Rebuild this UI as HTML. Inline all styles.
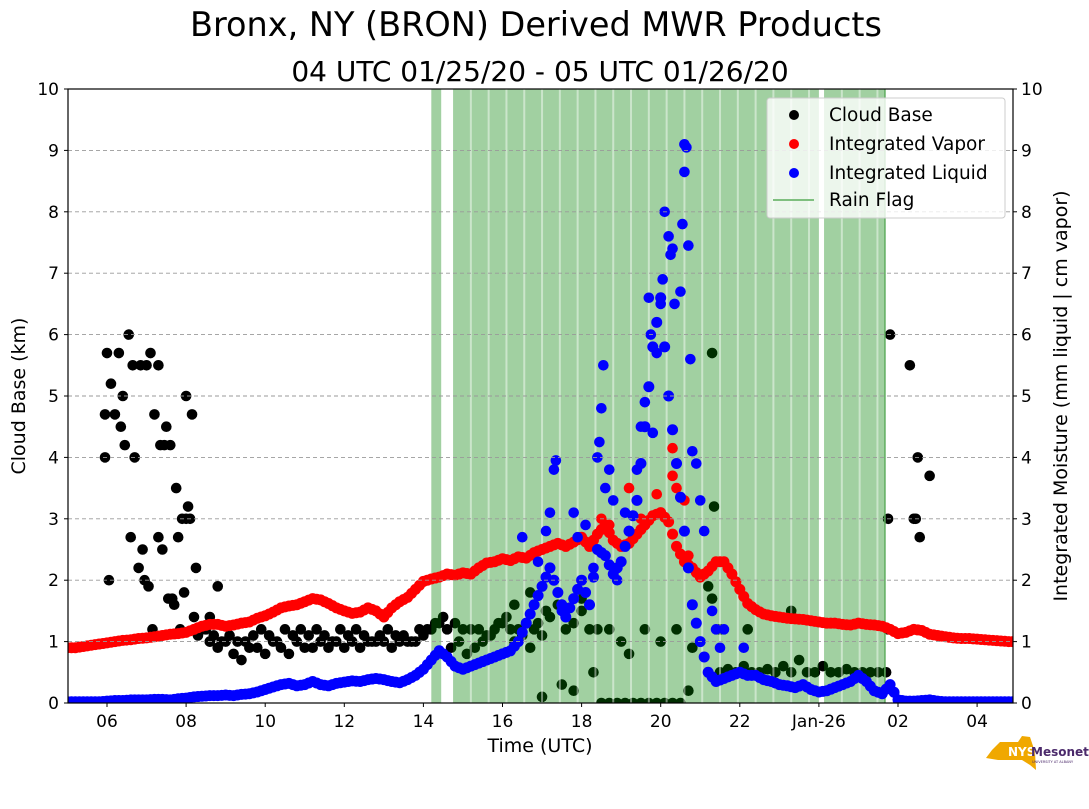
<!DOCTYPE html>
<html><head><meta charset="utf-8"><style>
body{margin:0;background:#fff;}
svg text{font-family:"DejaVu Sans","Liberation Sans",sans-serif;}
</style></head><body>
<svg id="chart" width="1089" height="804" xmlns="http://www.w3.org/2000/svg">
<text x="536" y="36" font-size="33.5" text-anchor="middle">Bronx, NY (BRON) Derived MWR Products</text>
<text x="540" y="81" font-size="28" text-anchor="middle">04 UTC 01/25/20 - 05 UTC 01/26/20</text>
<g id="plot"></g>
<text x="540" y="752" font-size="19" text-anchor="middle">Time (UTC)</text>
<text transform="translate(25,396) rotate(-90)" font-size="19" text-anchor="middle">Cloud Base (km)</text>
<text transform="translate(1067,396) rotate(-90)" font-size="19" text-anchor="middle">Integrated Moisture (mm liquid | cm vapor)</text>
<g>
<rect x="767" y="98" width="238" height="120" rx="3" fill="#fff" fill-opacity="0.8" stroke="#ccc"/>
<circle cx="794" cy="115" r="5" fill="#000"/><text x="829" y="121" font-size="18.5">Cloud Base</text>
<circle cx="794" cy="144" r="5" fill="#f00"/><text x="829" y="150" font-size="18.5">Integrated Vapor</text>
<circle cx="794" cy="173" r="5" fill="#00f"/><text x="829" y="179" font-size="18.5">Integrated Liquid</text>
<line x1="773" y1="200" x2="814" y2="200" stroke="#7fbf7f" stroke-width="2"/><text x="829" y="206" font-size="18.5">Rain Flag</text>
</g>
<g>
<path d="M1000,742 L1018,742 L1022,736 L1030,737 L1035,752 L1036,770 L1030,765 L1022,760 L998,760 L986,758 L992,750 Z" fill="#f0a800"/>
<text x="1008" y="756" font-size="12" font-weight="bold" fill="#fff">NYS</text>
<text x="1031" y="756" font-size="12" font-weight="bold" fill="#4b2a6b">Mesonet</text>
<text x="1032" y="763" font-size="3.5" fill="#4b2a6b">UNIVERSITY AT ALBANY</text>
</g>
</svg>
<script>
// Data (time in hours after 00 UTC 01/25; values in chart units)
const gridStart = 5.0, gridStep = 0.2;
const vapor = [0.90,0.90,0.92,0.94,0.96, 0.98,1.00,1.02,1.03,1.05, 1.06,1.08,1.10,1.12,1.13, 1.15,1.20,1.25,1.28,1.28,
 1.25,1.27,1.30,1.32,1.38, 1.42,1.48,1.55,1.58,1.60, 1.65,1.70,1.68,1.62,1.55, 1.50,1.46,1.48,1.55,1.50,
 1.40,1.55,1.65,1.72,1.85, 1.98,2.02,2.05,2.10,2.08, 2.12,2.10,2.20,2.28,2.30, 2.35,2.32,2.38,2.36,2.45,
 2.50,2.55,2.60,2.55,2.62, 2.70,2.55,2.75,2.90,2.65, 2.55,2.60,2.75,2.90,3.05, 3.10,2.95,2.55,2.30,2.20,
 2.05,2.15,2.30,2.30,2.10, 1.85,1.62,1.52,1.45,1.42, 1.40,1.38,1.37,1.36,1.34, 1.32,1.30,1.30,1.28,1.27,
 1.30,1.28,1.27,1.25,1.20, 1.13,1.15,1.20,1.18,1.12, 1.10,1.08,1.06,1.05,1.05, 1.04,1.03,1.02,1.01,1.00];
const liquid = [0.02,0.02,0.02,0.02,0.02, 0.03,0.04,0.04,0.05,0.05, 0.05,0.06,0.06,0.05,0.07, 0.08,0.10,0.11,0.12,0.12,
 0.13,0.12,0.14,0.15,0.18, 0.22,0.26,0.30,0.32,0.28, 0.30,0.35,0.30,0.28,0.32, 0.34,0.36,0.35,0.38,0.40,
 0.38,0.35,0.33,0.38,0.45, 0.55,0.70,0.85,0.75,0.60, 0.55,0.60,0.65,0.70,0.75, 0.80,0.85,1.00,1.30,1.60,
 1.90,2.20,1.80,1.40,1.70, 2.00,1.60,2.50,2.40,2.10, 2.30,2.80,3.30,4.50,5.80, 6.60,5.00,3.90,2.80,1.60,
 1.00,0.50,0.35,0.40,0.45, 0.50,0.45,0.45,0.38,0.35, 0.30,0.28,0.25,0.30,0.22, 0.18,0.20,0.25,0.30,0.35,
 0.45,0.35,0.20,0.15,0.30, 0.05,0.03,0.03,0.04,0.05, 0.03,0.02,0.02,0.02,0.02, 0.02,0.02,0.02,0.02,0.02];
const liquidExtraT = [16.5,16.9,17.1,17.2,17.3,17.35,17.5,17.8,17.9,18.1,18.3,18.4,18.45,18.5,18.55,18.6,18.7,18.8,18.9,19.1,19.2,19.4,19.5,19.6,19.7,19.75,19.8,19.9,20.0,20.05,20.1,20.2,20.25,20.3,20.35,20.5,20.55,20.6,20.6,20.65,20.7,20.75,20.8,20.9,21.0,21.1,21.3,21.4,21.5,21.6,22.1];
const liquidExtraV = [2.7,2.3,2.8,3.1,3.8,3.95,1.5,3.1,2.7,2.9,2.2,4.0,4.25,4.8,5.5,3.5,3.8,3.3,2.0,3.1,2.8,3.8,4.5,4.9,6.6,6.0,4.4,5.7,6.5,6.9,8.0,7.6,7.3,7.4,6.5,6.7,7.8,8.65,9.1,9.05,7.45,5.6,4.1,3.9,3.3,2.8,1.5,1.2,0.9,1.2,0.9];
const vaporExtraT = [20.3,20.3,19.9,20.6,20.4,18.5,19.2,20.7,18.7,19.5];
const vaporExtraV = [4.15,3.7,3.4,3.3,3.5,3.0,3.5,2.4,2.9,3.0];
const cloudT = [5.95,5.95,6.0,6.05,6.1,6.2,6.3,6.35,6.4,6.45,6.55,6.6,6.65,6.7,6.8,6.85,6.9,6.95,7.0,7.05,7.1,7.15,7.2,7.3,7.3,7.35,7.4,7.45,7.5,7.55,7.6,7.65,7.7,7.75,7.8,7.85,7.9,7.95,8.0,8.0,8.05,8.1,8.15,8.2,8.25,8.3,8.4,8.6,8.6,8.8,
 8.5,8.7,8.9,9.1,9.3,9.5,9.7,9.9,10.1,10.3,10.5,10.7,10.9,11.1,11.3,11.5,11.7,11.9,12.1,12.3,12.5,12.7,12.9,13.1,13.3,13.5,13.7,13.9,14.1,14.3,14.5,
 8.6,8.8,9.0,9.2,9.4,9.6,9.8,10.0,10.2,10.4,10.6,10.8,11.0,11.2,11.4,11.6,11.8,12.0,12.2,12.4,12.6,12.8,13.0,13.2,13.4,13.6,13.8,14.0,14.2,14.4,
 14.6,14.8,15.0,15.2,15.4,15.6,15.8,16.0,16.2,16.4,16.6,16.8,17.0, 14.7,14.9,15.1,15.3,15.5,15.7,15.9,16.1,16.3,16.5,16.7,16.9,17.1,
 17.2,17.4,17.6,17.8,18.0,18.2,18.4,
 16.3,16.7,17.0,17.5,17.8,18.0,18.3,18.7,19.0,19.2,19.6,20.0,20.4,20.8,21.2,21.3,21.35,21.3,22.2,21.5,20.7,
 18.5,18.7,18.9,19.1,19.3,19.5,19.7,19.9,20.1,20.3,20.5,
 21.5,21.7,21.9,22.1,22.3,22.5,22.7,22.9,23.1,23.3,23.5,23.7,23.9,24.1,24.3,24.5,24.7,24.9,25.1,25.3,25.5,25.7,
 23.3,25.75,25.8,25.75,26.3,26.4,26.45,26.5,26.55,26.8];
const cloudBase = [4.7,4.0,5.7,2.0,5.2,4.7,5.7,4.5,5.0,4.2,6.0,2.7,5.5,4.0,2.2,5.5,2.5,2.0,5.5,1.9,5.7,1.2,4.7,5.5,2.7,4.2,2.5,4.2,4.5,1.7,4.2,1.7,1.6,3.5,2.7,1.2,3.0,1.8,5.0,3.0,3.2,3.0,4.7,1.4,2.2,1.1,1.2,1.4,1.0,1.9,
 1.2,1.1,1.0,1.1,1.0,1.0,1.1,1.2,1.1,1.0,1.2,1.1,1.2,1.1,1.2,1.1,1.0,1.2,1.1,1.2,1.1,1.0,1.1,1.2,1.1,1.1,1.0,1.2,1.2,1.3,1.4,
 1.0,0.9,1.0,0.8,0.7,0.9,0.9,0.8,1.0,0.9,0.8,1.0,0.9,0.9,1.0,0.9,1.0,0.9,1.0,0.9,1.0,1.0,1.0,0.9,1.0,1.0,1.0,1.1,1.2,1.3,
 1.2,1.3,1.2,1.2,1.2,1.1,1.2,1.3,1.2,1.2,1.3,1.2,1.1, 0.9,1.0,0.8,0.9,1.0,1.1,1.3,1.4,1.0,1.1,0.9,1.3,1.5,
 1.4,1.6,1.2,1.3,1.5,1.2,1.2,
 1.6,1.8,0.1,0.3,0.2,1.7,0.5,1.2,1.0,0.8,1.2,1.0,1.2,0.9,1.9,1.7,3.2,5.7,1.2,1.2,0.2,
 0,0,0,0,0,0,0,0,0,0,0,
 0.5,0.55,0.5,0.6,0.5,0.5,0.55,0.5,0.6,0.5,0.7,0.5,0.5,0.6,0.5,0.5,0.55,0.5,0.5,0.5,0.5,0.5,
 1.5,1.2,6.0,3.0,5.5,3.0,3.0,4.0,2.7,3.7];
const rainStart = [14.2, 14.75, 24.13];
const rainEnd = [14.45, 24.0, 25.67];
const xTickHours = [6,8,10,12,14,16,18,20,22,24,26,28];
const xTickLabels = ["06","08","10","12","14","16","18","20","22","Jan-26","02","04"];
const yTicks = [0,1,2,3,4,5,6,7,8,9,10];

const L=68,R=1013,T=89,B=703;
const xs = t => 107 + 39.55*(t-6);
const ys = v => B - (B-T)*v/10;
const NS="http://www.w3.org/2000/svg";
const plot=document.getElementById('plot');
function mk(tag,attrs,parent){const e=document.createElementNS(NS,tag);for(const k in attrs)e.setAttribute(k,attrs[k]);(parent||plot).appendChild(e);return e;}
const clip=mk('clipPath',{id:'pc'});mk('rect',{x:L,y:T,width:R-L,height:B-T},clip);
const gData=mk('g',{'clip-path':'url(#pc)'});


const gC=mk('g',{fill:'#000'},gData);


cloudT.forEach((t,i)=>{const c=mk('circle',{cx:xs(t),cy:ys(cloudBase[i]),r:5.3},gC);

});
const gRain=mk('g',{},gData);


rainStart.forEach((s,i)=>{
  const r=mk('rect',{x:xs(s),y:T,width:xs(rainEnd[i])-xs(s),height:B-T,fill:'#008000','fill-opacity':0.37},gRain);
  
  
  for(let t=s+0.45;t<rainEnd[i]-0.1;t+=0.45){
    const l=mk('line',{x1:xs(t),x2:xs(t),y1:T,y2:B,stroke:'#fff','stroke-opacity':0.45,'stroke-width':2},gRain);
    
    
  }
});
mk('line',{x1:xs(25.67),x2:xs(25.67),y1:T,y2:B,stroke:'#5fae5f','stroke-width':1.5},gRain);
const gV=mk('g',{fill:'#f00'},gData);


vapor.forEach((v,i)=>{const t=gridStart+i*gridStep;[0,0.1].forEach(d=>{const c=mk('circle',{cx:xs(t+d),cy:ys(d?(v+(vapor[i+1]??v))/2:v),r:5.5},gV);

});});
vaporExtraT.forEach((t,i)=>{const c=mk('circle',{cx:xs(t),cy:ys(vaporExtraV[i]),r:5.3},gV);

});
const gL=mk('g',{fill:'#00f'},gData);


liquid.forEach((v,i)=>{const t=gridStart+i*gridStep;[0,0.1].forEach(d=>{const c=mk('circle',{cx:xs(t+d),cy:ys(d?(v+(liquid[i+1]??v))/2:v),r:5.5},gL);

});});
liquidExtraT.forEach((t,i)=>{const c=mk('circle',{cx:xs(t),cy:ys(liquidExtraV[i]),r:5.3},gL);

});
yTicks.forEach(v=>{
  if(v>0&&v<10){const g=mk('line',{x1:L,x2:R,y1:ys(v),y2:ys(v),stroke:'#999','stroke-dasharray':'4,3','stroke-width':0.9});
  
  }
  mk('line',{x1:L-4,x2:L,y1:ys(v),y2:ys(v),stroke:'#000'});
  mk('line',{x1:R,x2:R+4,y1:ys(v),y2:ys(v),stroke:'#000'});
  const a=mk('text',{x:L-9,y:ys(v)+6,'font-size':17,'text-anchor':'end'});a.textContent=v;
  
  
  const b=mk('text',{x:R+8,y:ys(v)+6,'font-size':17});b.textContent=v;
  
  
});
xTickHours.forEach((h,i)=>{
  mk('line',{x1:xs(h),x2:xs(h),y1:B,y2:B+4,stroke:'#000'});
  const t=mk('text',{x:xs(h),y:B+24,'font-size':17,'text-anchor':'middle'});t.textContent=xTickLabels[i];
  
  
});
const frame=mk('rect',{x:L,y:T,width:R-L,height:B-T,fill:'none',stroke:'#000','stroke-width':1.2});


</script>
</body></html>
